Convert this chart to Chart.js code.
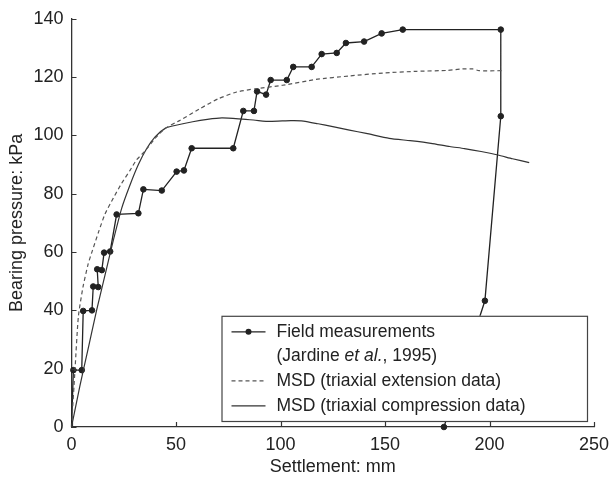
<!DOCTYPE html>
<html>
<head>
<meta charset="utf-8">
<script src="https://cdn.jsdelivr.net/npm/chart.js@4.4.0/dist/chart.umd.min.js"></script>
<style>
  html, body { margin: 0; padding: 0; background: #fff; }
  #chart-container { width: 610px; height: 479px; }
</style>
</head>
<body>
<div id="chart-container">
  <canvas id="settlementChart"></canvas>
</div>
<script>
// field measurements (Jardine et al., 1995)
const fieldSettlement = [0, 0.9, 4.9, 5.6, 9.8, 10.4, 12.8, 12.3, 14.5, 15.6, 18.5, 21.6, 32.0, 34.4, 43.2, 50.3, 53.8, 57.5, 77.4, 82.2, 87.3, 88.8, 93.1, 95.3, 103.0, 106.1, 114.9, 119.7, 126.9, 131.3, 140.0, 148.4, 158.5, 205.4, 205.4, 197.8, 178.2];
const fieldPressure   = [0, 19.5, 19.5, 39.8, 40.0, 48.2, 48.0, 54.1, 53.8, 59.8, 60.2, 72.9, 73.3, 81.5, 81.1, 87.6, 88.0, 95.6, 95.6, 108.4, 108.4, 115.1, 114.0, 119.0, 119.0, 123.5, 123.5, 127.9, 128.3, 131.7, 132.2, 135.0, 136.3, 136.3, 106.6, 43.3, 0];

// MSD, triaxial extension data (dashed)
const extSettlement = [0, 1.7, 3.3, 5.5, 8.0, 10.0, 13.0, 16.0, 20.0, 24.0, 28.0, 31.0, 35.0, 40.0, 45.0, 52.0, 61.0, 70.0, 79.0, 88.0, 101.0, 117.0, 133.0, 149.0, 165.0, 180.0, 187.0, 192.0, 195.0, 206.0];
const extPressure   = [0, 20.0, 38.0, 48.0, 56.0, 60.5, 67.0, 73.0, 78.5, 83.6, 88.0, 91.5, 94.5, 99.0, 102.5, 105.2, 109.0, 112.5, 114.9, 116.0, 117.2, 119.2, 120.4, 121.4, 122.0, 122.3, 122.8, 122.8, 122.2, 122.2];

// MSD, triaxial compression data (solid)
const compSettlement = [0, 4, 8, 12, 16, 20, 24, 28, 32, 36, 40, 45, 50, 58, 65, 72, 80, 88, 95, 105, 110, 118, 125, 133, 141, 152, 162, 172, 181, 188, 196, 204, 211, 219];
const compPressure   = [0, 14, 27, 40, 52, 64, 75, 83, 90, 95.5, 99.5, 102.5, 103.5, 104.7, 105.5, 106.0, 105.7, 105.2, 104.8, 105.1, 105.0, 104.0, 103.0, 101.8, 100.7, 99.0, 98.2, 97.3, 96.2, 95.5, 94.5, 93.3, 92.0, 90.7];

const xTicks = [0, 50, 100, 150, 200, 250];
const yTicks = [0, 20, 40, 60, 80, 100, 120, 140];

function toPoints(xs, ys) {
    return xs.map((x, i) => ({ x: x, y: ys[i] }));
}

const fontFamily = '"Liberation Sans", Arial, Helvetica, sans-serif';
const ink = '#222';

// inward ticks + boxed legend
const extrasPlugin = {
    id: 'extras',
    afterDraw(chart) {
        const ctx = chart.ctx;
        const area = chart.chartArea;
        const xs = chart.scales.x, ys = chart.scales.y;

        ctx.save();
        ctx.strokeStyle = '#333';
        ctx.lineWidth = 1.2;
        ctx.beginPath();
        xTicks.forEach(v => {
            const px = Math.round(xs.getPixelForValue(v)) + 0.5;
            ctx.moveTo(px, area.bottom);
            ctx.lineTo(px, area.bottom - 5);
        });
        yTicks.forEach(v => {
            const py = Math.round(ys.getPixelForValue(v)) + 0.5;
            ctx.moveTo(area.left, py);
            ctx.lineTo(area.left + 5, py);
        });
        ctx.stroke();

        // legend box
        const bx = area.left + 150, by = area.top + 297;
        const bw = area.right - 7 - bx, bh = area.bottom - 6 - by;
        ctx.fillStyle = '#fff';
        ctx.fillRect(bx, by, bw, bh);
        ctx.strokeStyle = '#444';
        ctx.lineWidth = 1.2;
        ctx.strokeRect(bx + 0.5, by + 0.5, bw, bh);

        const lx0 = bx + 10, lx1 = bx + 44, tx = bx + 55;
        const rows = [by + 16, by + 40, by + 65, by + 90];
        ctx.font = '17.5px ' + fontFamily;
        ctx.fillStyle = ink;
        ctx.textBaseline = 'middle';
        ctx.textAlign = 'left';

        // field measurements
        ctx.strokeStyle = '#222';
        ctx.lineWidth = 1.2;
        ctx.setLineDash([]);
        ctx.beginPath();
        ctx.moveTo(lx0, rows[0]); ctx.lineTo(lx1, rows[0]);
        ctx.stroke();
        ctx.beginPath();
        ctx.arc((lx0 + lx1) / 2, rows[0], 3, 0, Math.PI * 2);
        ctx.fill();
        ctx.fillText('Field measurements', tx, rows[0]);

        let x = tx;
        ctx.fillText('(Jardine ', x, rows[1]);
        x += ctx.measureText('(Jardine ').width;
        ctx.font = 'italic 17.5px ' + fontFamily;
        ctx.fillText('et al.', x, rows[1]);
        x += ctx.measureText('et al.').width;
        ctx.font = '17.5px ' + fontFamily;
        ctx.fillText(', 1995)', x, rows[1]);

        // extension
        ctx.strokeStyle = '#555';
        ctx.setLineDash([4, 3]);
        ctx.beginPath();
        ctx.moveTo(lx0, rows[2]); ctx.lineTo(lx1, rows[2]);
        ctx.stroke();
        ctx.fillText('MSD (triaxial extension data)', tx, rows[2]);

        // compression
        ctx.strokeStyle = '#333';
        ctx.setLineDash([]);
        ctx.beginPath();
        ctx.moveTo(lx0, rows[3]); ctx.lineTo(lx1, rows[3]);
        ctx.stroke();
        ctx.fillText('MSD (triaxial compression data)', tx, rows[3]);
        ctx.restore();
    }
};

const ctx = document.getElementById('settlementChart').getContext('2d');

const chart = new Chart(ctx, {
    type: 'line',
    data: {
        datasets: [
            {
                label: 'MSD (triaxial extension data)',
                data: toPoints(extSettlement, extPressure),
                borderColor: '#555',
                borderWidth: 1.2,
                borderDash: [4, 3],
                pointRadius: 0,
                tension: 0.2,
                fill: false
            },
            {
                label: 'MSD (triaxial compression data)',
                data: toPoints(compSettlement, compPressure),
                borderColor: '#333',
                borderWidth: 1.2,
                pointRadius: 0,
                tension: 0.2,
                fill: false
            },
            {
                label: 'Field measurements (Jardine et al., 1995)',
                data: toPoints(fieldSettlement, fieldPressure),
                borderColor: '#222',
                borderWidth: 1.3,
                pointRadius: c => c.dataIndex === 0 ? 0 : 2.8,
                pointBackgroundColor: '#222',
                pointBorderColor: '#222',
                pointBorderWidth: 1,
                tension: 0,
                fill: false,
                clip: false
            }
        ]
    },
    options: {
        responsive: true,
        maintainAspectRatio: false,
        animation: false,
        devicePixelRatio: 1,
        layout: { padding: { left: 0, right: 16, top: 16, bottom: 0 } },
        plugins: {
            legend: { display: false },
            tooltip: { enabled: false }
        },
        scales: {
            x: {
                type: 'linear',
                min: 0,
                max: 250,
                afterFit: s => { s.height = 52; s.paddingRight = 0; s.paddingLeft = 0; },
                afterBuildTicks: s => { s.ticks = xTicks.map(v => ({ value: v })); },
                grid: { display: false, drawTicks: false },
                border: { display: true, color: '#333', width: 1.3 },
                ticks: { color: ink, font: { family: fontFamily, size: 18 }, padding: 7, maxRotation: 0 },
                title: { display: true, text: 'Settlement: mm', color: ink, font: { family: fontFamily, size: 18 }, padding: { top: 0, bottom: 1 } }
            },
            y: {
                type: 'linear',
                min: 0,
                max: 140,
                afterFit: s => { s.width = 71.5; },
                afterBuildTicks: s => { s.ticks = yTicks.map(v => ({ value: v })); },
                grid: { display: false, drawTicks: false },
                border: { display: true, color: '#333', width: 1.3 },
                ticks: { color: ink, font: { family: fontFamily, size: 18 }, padding: 8 },
                title: { display: true, text: 'Bearing pressure: kPa', color: ink, font: { family: fontFamily, size: 18 }, padding: { top: 6, bottom: 0 } }
            }
        }
    },
    plugins: [extrasPlugin]
});
</script>
</body>
</html>
